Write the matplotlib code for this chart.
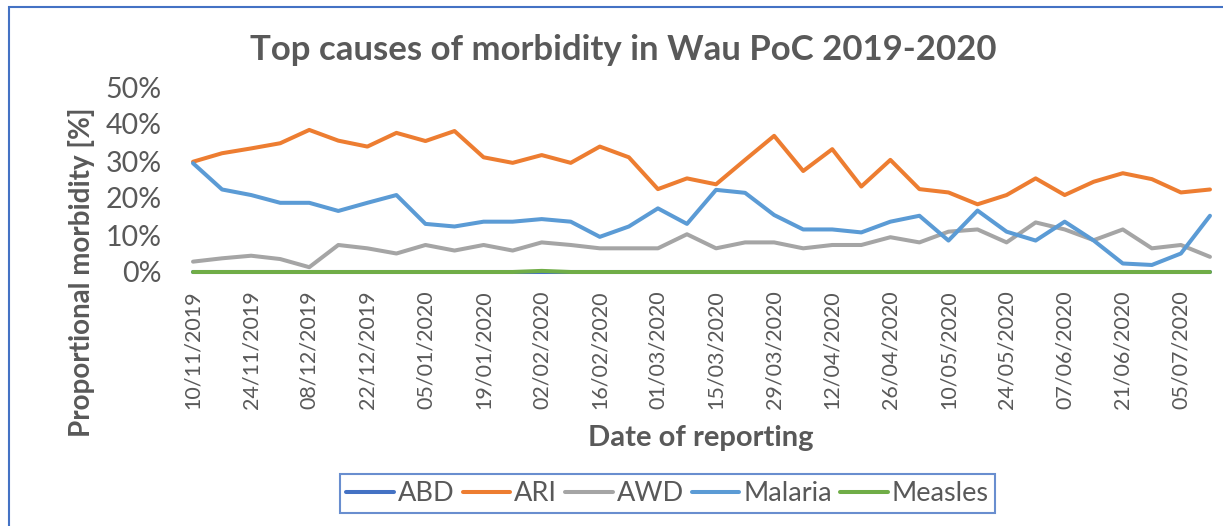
import datetime as dt
import matplotlib.pyplot as plt
from matplotlib.patches import Rectangle

# weekly reporting dates, 10/11/2019 .. 12/07/2020
dates = [dt.date(2019, 11, 10) + dt.timedelta(weeks=i) for i in range(36)]
labels = [d.strftime("%d/%m/%Y") for d in dates]

abd = [0.0] * 36
ari = [29.8, 32.1, 33.4, 34.8, 38.4, 35.5, 33.9, 37.6, 35.4, 38.1, 31.0, 29.5,
       31.6, 29.5, 33.9, 31.0, 22.4, 25.3, 23.7, 30.3, 36.8, 27.3, 33.2, 23.1,
       30.3, 22.4, 21.5, 18.3, 20.8, 25.3, 20.8, 24.4, 26.7, 25.1, 21.5, 22.3]
awd = [2.8, 3.7, 4.4, 3.5, 1.3, 7.3, 6.4, 5.0, 7.3, 5.8, 7.3, 5.8,
       8.0, 7.3, 6.4, 6.4, 6.4, 10.2, 6.4, 8.0, 8.0, 6.4, 7.3, 7.3,
       9.4, 8.0, 10.9, 11.5, 8.0, 13.4, 11.5, 8.6, 11.5, 6.4, 7.3, 4.1]
malaria = [29.4, 22.3, 20.8, 18.7, 18.7, 16.5, 18.7, 20.8, 13.0, 12.3, 13.6, 13.6,
           14.3, 13.6, 9.5, 12.3, 17.2, 13.0, 22.2, 21.4, 15.4, 11.5, 11.5, 10.7,
           13.6, 15.2, 8.5, 16.6, 10.9, 8.5, 13.6, 8.5, 2.3, 1.9, 5.0, 15.2]
measles = [0.0] * 12 + [0.3] + [0.0] * 23

series = [("ABD", abd, "#4472C4"), ("ARI", ari, "#ED7D31"), ("AWD", awd, "#A5A5A5"),
          ("Malaria", malaria, "#5B9BD5"), ("Measles", measles, "#70AD47")]

txt = "#595959"
plt.rcParams["font.family"] = ["Lato", "DejaVu Sans"]

W, H = 1223, 526
fig = plt.figure(figsize=(W / 100, H / 100), dpi=100)
ax = fig.add_axes([178.5 / W, (H - 272) / H, (1224.5 - 178.5) / W, (272 - 87) / H])

x = list(range(len(dates)))
for name, vals, col in series:
    ax.plot(x, [v / 100 for v in vals], color=col, lw=2.9, label=name,
            clip_on=False, solid_capstyle="round")

ax.set_xlim(-0.5, 35.5)
ax.set_ylim(0, 0.5)
ax.set_yticks([0, 0.1, 0.2, 0.3, 0.4, 0.5])
ax.set_yticklabels(["0%", "10%", "20%", "30%", "40%", "50%"], fontsize=20.5, color=txt)
ax.set_xticks(x[::2])
ax.set_xticklabels(labels[::2], rotation=90, fontsize=15.5, color=txt)
ax.tick_params(length=0, pad=13)
ax.tick_params(axis="y", pad=12)
for s in ax.spines.values():
    s.set_visible(False)

fig.text(623 / W, (H - 50) / H, "Top causes of morbidity in Wau PoC 2019-2020",
         ha="center", va="center", fontsize=25, fontweight="bold", color=txt)
fig.text(82 / W, (H - 272) / H, "Proportional morbidity [%]", rotation=90,
         ha="center", va="center", fontsize=20, fontweight="bold", color=txt)
fig.text(701 / W, (H - 438) / H, "Date of reporting", ha="center", va="center",
         fontsize=21, fontweight="bold", color=txt)

leg = fig.legend(loc="center", bbox_to_anchor=(667.5 / W, (H - 493.5) / H), ncol=5,
                 fontsize=19.5, frameon=True, fancybox=False, handlelength=1.75,
                 handletextpad=0.15, columnspacing=0.3, borderpad=0.25)
leg.get_frame().set_edgecolor("#4472C4")
leg.get_frame().set_linewidth(1.5)
for t in leg.get_texts():
    t.set_color(txt)

# chart border
fig.patches.append(Rectangle((9 / W, -0.1), 1.2, (H - 7) / H + 0.1, transform=fig.transFigure,
                             fill=False, edgecolor="#4472C4", lw=1.5))

fig.savefig("out.png", dpi=100)
